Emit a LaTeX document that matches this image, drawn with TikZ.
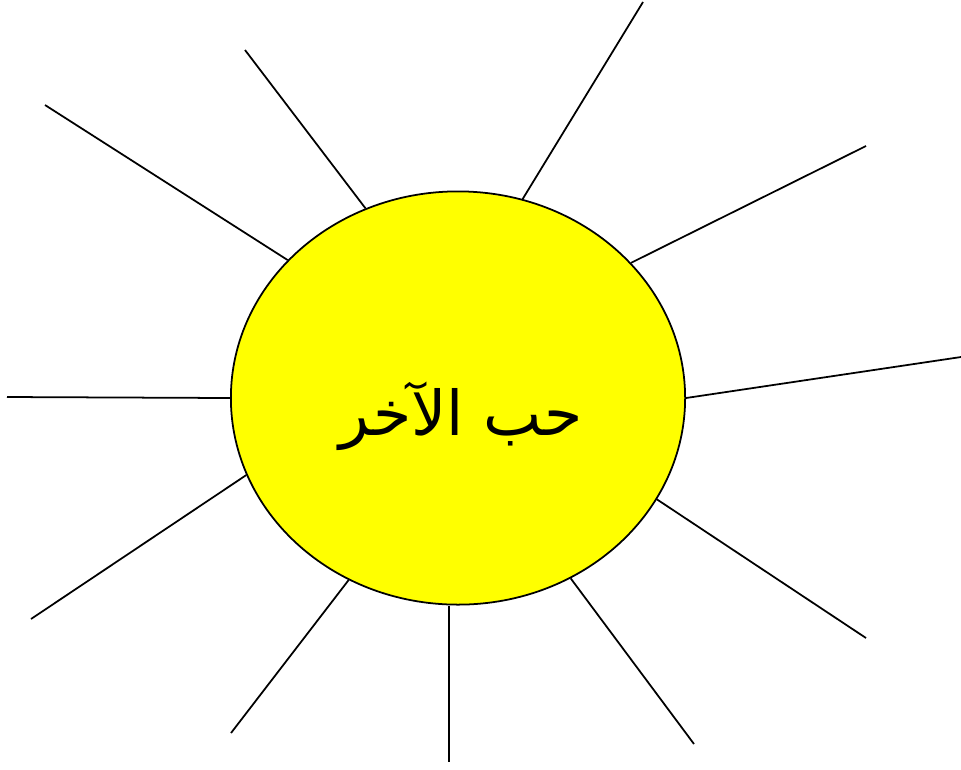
\documentclass[tikz,border=0pt]{standalone}
\usepackage{fontspec}
\usepackage{tikz}
\usetikzlibrary{shapes.geometric}
\TeXXeTstate=1
\newfontfamily\arabicfont[Script=Arabic]{DejaVu Sans}
\definecolor{sunfill}{HTML}{FFFF00}
\tikzset{
  sunbox/.style={ellipse, draw=black, line width=0.5pt, fill=sunfill,
    minimum width=4.54cm, minimum height=4.13cm, inner sep=0pt},
  ray/.style={draw=black, line width=0.5pt},
  titletext/.style={font=\arabicfont\fontsize{17.6}{21}\selectfont, inner sep=0pt}
}
\begin{document}
\begin{tikzpicture}[x=0.01cm, y=-0.01cm]
    \useasboundingbox (0,0) rectangle (961,769);
    \node[sunbox] (sun) at (458,398) {};
    \node[titletext] (title) at (461,416) {\beginR حب الآخر\endR};
    % rays out of the sun
    \foreach \i/\ang/\x/\y in {1/141.1/45/105, 2/116.6/245/50, 3/72.7/643/2,
        4/38.9/866/146, 5/0.5/961/357, 6/-27.1/866/638, 7/-58.3/694/744,
        9/-121.2/231/733, 10/-160.8/31/619, 11/180/7/397} {
      \coordinate (tip\i) at (\x,\y);
      \draw[ray] (sun.\ang) -- (tip\i);
    }
    \coordinate (tip8) at (449,762);
    \draw[ray] (tip8 |- sun.south) -- (tip8);
  \end{tikzpicture}
\end{document}
